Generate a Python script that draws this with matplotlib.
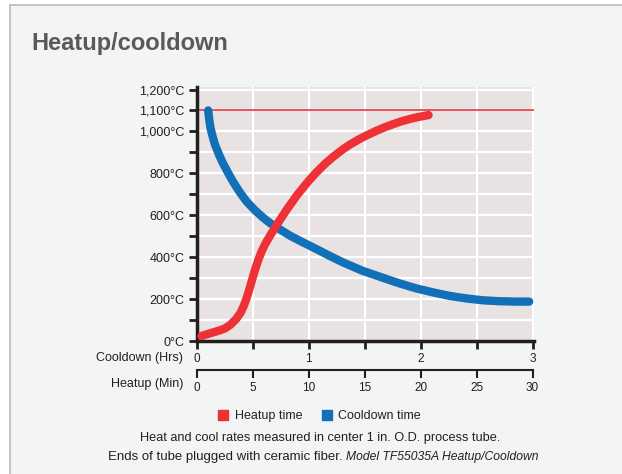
import matplotlib
matplotlib.use('Agg')
from matplotlib import pyplot as plt
from matplotlib.patches import Patch, Rectangle
from matplotlib.ticker import FuncFormatter

plt.rcParams['font.family'] = ['Liberation Sans', 'DejaVu Sans']

# heatup curve, minutes vs degC
heat_min = [0.4, 1.0, 1.5, 2.0, 2.5, 3.0, 3.5, 3.9, 4.2, 4.5, 4.7, 5.0, 5.2,
            5.5, 5.8, 6.1, 6.5, 7.2, 8.0, 9.0, 10.0, 10.7, 11.5, 12.2, 13.0,
            13.7, 14.5, 15.2, 16.0, 16.7, 17.5, 18.2, 19.0, 19.8, 20.7]
heat_temp = [24, 34, 42, 50, 60, 78, 105, 135, 170, 215, 251, 306, 342,
             390, 430, 463, 500, 560, 625, 700, 765, 806, 848, 880, 913,
             938, 963, 982, 1002, 1018, 1034, 1047, 1059, 1069, 1078]

# cooldown curve, hours vs degC
cool_hrs = [0.10, 0.11, 0.12, 0.14, 0.16, 0.20, 0.235, 0.28, 0.32, 0.38, 0.44,
            0.51, 0.59, 0.66, 0.74, 0.83, 0.95, 1.07, 1.19, 1.31, 1.48, 1.66,
            1.81, 1.96, 2.11, 2.26, 2.41, 2.56, 2.70, 2.85, 2.97]
cool_temp = [1100, 1055, 1018, 975, 938, 885, 845, 800, 762, 712, 668,
             628, 589, 560, 533, 503, 470, 438, 405, 374, 335, 302,
             275, 251, 232, 215, 203, 194, 190, 188, 188]

max_temp = 1100
labelled = [0, 200, 400, 600, 800, 1000, 1100, 1200]

RED = '#ee3137'
BLUE = '#1170b8'
INK = '#231f20'

fig = plt.figure(figsize=(6.22, 4.74), dpi=100, facecolor='white')
fig.patches.append(Rectangle((10 / 622, -0.05), 1.0, 1.05 - 4.5 / 474,
                             transform=fig.transFigure, facecolor='#f3f4f4',
                             edgecolor='#bfbfbf', lw=1.3, zorder=-10))

fig.text(31 / 622, 1 - 50 / 474, 'Heatup/cooldown', weight='bold',
         fontsize=17, color='#58595b', va='baseline')

ax = fig.add_axes([197 / 622, 1 - 341 / 474, 337 / 622, 254 / 474])
ax.set_facecolor('#e8e2e3')
ax.set_xlim(0, 3.013)
ax.set_ylim(0, 1212)
ax.set_axisbelow(True)

ax.set_yticks(range(0, 1300, 100))
ax.yaxis.set_major_formatter(FuncFormatter(
    lambda v, p: f'{int(v):,}°C' if int(v) in labelled else ''))
ax.set_xticks([0, 1, 2, 3])
ax.set_xticks([0.5, 1.5, 2.5], minor=True)
ax.grid(which='both', color='white', lw=1.6)

for s in ['top', 'right']:
    ax.spines[s].set_visible(False)
for s in ['left', 'bottom']:
    ax.spines[s].set_linewidth(2.5)
    ax.spines[s].set_color(INK)
ax.tick_params(axis='y', length=6, width=2, pad=3, labelsize=9, colors=INK)
ax.tick_params(axis='x', which='both', length=6, width=2, pad=2.5,
               labelsize=8.5, colors=INK)

ax.axhline(max_temp, color='#e23a3f', lw=1.2, zorder=1.8)
ax.plot(cool_hrs, cool_temp, color=BLUE, lw=6, solid_capstyle='round',
        solid_joinstyle='round', zorder=3)

ax2 = ax.twiny()
ax2.set_xlim(0, 30.13)
ax2.xaxis.set_ticks_position('bottom')
ax2.xaxis.set_label_position('bottom')
for s in ['top', 'right', 'left']:
    ax2.spines[s].set_visible(False)
ax2.spines['bottom'].set_position(('outward', 21))
ax2.spines['bottom'].set_linewidth(1.5)
ax2.spines['bottom'].set_color(INK)
ax2.spines['bottom'].set_bounds(0, 30)
ax2.set_xticks(range(0, 31, 5))
ax2.tick_params(axis='x', length=6, width=1.5, pad=2.5, labelsize=8.5,
                colors=INK)
ax2.plot(heat_min, heat_temp, color=RED, lw=6, solid_capstyle='round',
         solid_joinstyle='round', zorder=4)

fig.text(183 / 622, 1 - 358 / 474, 'Cooldown (Hrs)', ha='right', va='center',
         fontsize=9, color=INK)
fig.text(183 / 622, 1 - 384 / 474, 'Heatup (Min)', ha='right', va='center',
         fontsize=9, color=INK)

handles = [Patch(color=RED), Patch(color=BLUE)]
fig.legend(handles, ['Heatup time', 'Cooldown time'], loc='center',
           bbox_to_anchor=(0.514, 1 - 416 / 474), ncol=2, frameon=False,
           handlelength=0.8, handleheight=0.8, handletextpad=0.5,
           columnspacing=1.6, fontsize=9, labelcolor=INK)

fig.text(0.514, 1 - 438 / 474,
         'Heat and cool rates measured in center 1 in. O.D. process tube.',
         ha='center', va='center', fontsize=9.2, color=INK)
fig.text(343 / 622, 1 - 457 / 474, 'Ends of tube plugged with ceramic fiber.',
         ha='right', va='center', fontsize=9.5, color=INK)
fig.text(346 / 622, 1 - 457 / 474, 'Model TF55035A Heatup/Cooldown',
         ha='left', va='center', fontsize=8.7, style='italic', color=INK)

fig.savefig('out.png', dpi=100, facecolor=fig.get_facecolor())
